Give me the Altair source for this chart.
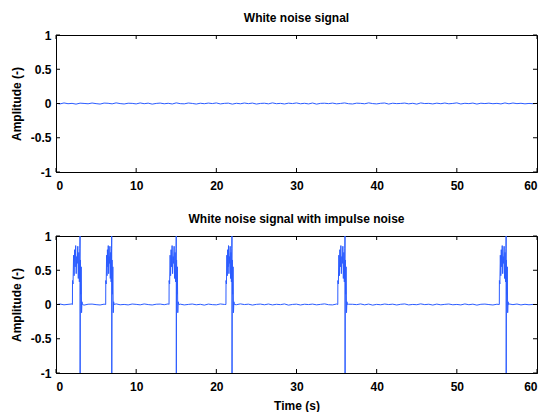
import altair as alt
import pandas as pd

BLUE = "#2b5cff"
W, H = 481, 137

x_ticks = [0, 10, 20, 30, 40, 50, 60]
y_ticks = [-1, -0.5, 0, 0.5, 1]

# white noise (thousandths of amplitude), read as a thin jittery line around 0
noise_top = [4, -6, 8, -3, 2, -9, 5, 1, -4, 7, -2, -8, 6, 3, -5, 9, -1, -7, 4, 2,
             -6, 8, -3, 5, -9, 1, 6, -4, 3, -7, 9, -2, -5, 7, 1, -8, 4, -3, 6, -1,
             8, -6, 2, 5, -9, 3, -4, 7, -2, 6, -8, 1, 4, -5, 9, -3, 2, -7, 5, -1,
             8, -4, 3, -6, 7, -9, 2, 4, -2, 6, -5, 1, 8, -3, -7, 5, 2, -4, 9, -1,
             -6, 3, 7, -8, 4, -2, 1, 6, -5, 3, -9, 8, -1, 2, -6, 5, -3, 7, -4, 1,
             9, -7, 3, -2, 6, -8, 4, -1, 5, -3, 2, -6, 8, -4, 7, -2, 3, -5, 1, -3, 2]
noise_bottom = [-3, 7, -5, 2, 8, -6, 1, -9, 4, 6, -2, -7, 5, 3, -8, 9, -4, 1, -6, 7,
                2, -5, 8, -1, -7, 4, 6, -3, 9, -8, 2, 5, -6, 1, 7, -4, 3, -9, 6, -2,
                -5, 8, 1, -7, 4, -3, 9, -1, 5, -8, 2, 6, -4, 7, -6, 3, -2, 8, -9, 1,
                5, -7, 4, -1, 6, -5, 2, 9, -3, -6, 7, 1, -8, 4, 3, -2, 8, -5, 6, -9,
                2, -4, 7, -1, 5, -7, 3, 8, -6, 1, -3, 9, -2, 4, -8, 6, -5, 2, 7, -4,
                1, -6, 8, -3, 5, -9, 3, 6, -1, -7, 4, 2, -5, 8, -2, 7, -6, 3, -4, 1, 0]

# impulse bursts: start of burst, time of the full-scale spike
burst_rise = [2.05, 6.2, 14.1, 21.2, 35.15, 55.3]
burst_spike = [3.0, 6.95, 15.0, 21.95, 36.05, 56.15]
burst_pre = [0.35, 0.30, 0.72, 0.42, 0.80, 0.55, 0.86, 0.45, 0.70, 0.60, 0.85,
             0.38, 0.76, 0.33, 0.82]
burst_post = [0.65, 0.15, 0.55, -0.12, 0.04]


def noise_frame(noise):
    n = len(noise)
    return [(60 * i / (n - 1), v / 1000) for i, v in enumerate(noise)]


top_df = pd.DataFrame(noise_frame(noise_top), columns=["t", "y"])

rows = []
for t, v in noise_frame(noise_bottom):
    if any(r - 0.02 <= t <= s + 0.3 for r, s in zip(burst_rise, burst_spike)):
        continue
    rows.append((t, v))
for r, s in zip(burst_rise, burst_spike):
    rows.append((r, 0.0))
    m = len(burst_pre)
    for k, v in enumerate(burst_pre):
        rows.append((r + 0.01 + (s - r - 0.03) * k / (m - 1), v))
    rows.append((s, 1.0))
    rows.append((s + 0.01, -1.0))
    for k, v in enumerate(burst_post):
        rows.append((s + 0.04 + 0.05 * k, v))
    rows.append((s + 0.3, 0.0))
bot_df = pd.DataFrame(sorted(rows), columns=["t", "y"])
bot_df["i"] = range(len(bot_df))
top_df["i"] = range(len(top_df))

xs = alt.Scale(domain=[0, 60], nice=False, zero=False)
ys = alt.Scale(domain=[-1, 1], nice=False, zero=False)
label_expr = "'' + datum.value"

xt_df = pd.DataFrame({"v": x_ticks})
yt_df = pd.DataFrame({"v": y_ticks})


def panel(df, title, xtitle):
    if xtitle:
        x_axis = alt.Axis(values=x_ticks, labelExpr=label_expr, title=xtitle,
                          labelPadding=8, titlePadding=8)
    else:
        x_axis = alt.Axis(values=x_ticks, labelExpr=label_expr, title="",
                          labelPadding=8)
    y_axis = alt.Axis(values=y_ticks, labelExpr=label_expr, title="Amplitude (-)",
                      labelPadding=5, titlePadding=7)
    line = alt.Chart(df).mark_line(color=BLUE, strokeWidth=1, clip=True).encode(
        x=alt.X("t:Q", scale=xs, axis=x_axis),
        y=alt.Y("y:Q", scale=ys, axis=y_axis),
        order="i:Q",
    )
    xb = alt.Chart(xt_df).mark_rule(color="black").encode(
        x=alt.X("v:Q", scale=xs, axis=x_axis), y=alt.value(H), y2=alt.value(H - 4))
    xtp = alt.Chart(xt_df).mark_rule(color="black").encode(
        x=alt.X("v:Q", scale=xs, axis=x_axis), y=alt.value(0), y2=alt.value(4))
    yl = alt.Chart(yt_df).mark_rule(color="black").encode(
        y=alt.Y("v:Q", scale=ys, axis=y_axis), x=alt.value(0), x2=alt.value(4))
    yr = alt.Chart(yt_df).mark_rule(color="black").encode(
        y=alt.Y("v:Q", scale=ys, axis=y_axis), x=alt.value(W), x2=alt.value(W - 4))
    return alt.layer(line, xb, xtp, yl, yr).properties(
        width=W, height=H,
        title=alt.TitleParams(title, fontSize=12, fontWeight="bold",
                              font="Liberation Sans", color="black", offset=4),
    )


chart = alt.vconcat(
    panel(top_df, "White noise signal", None),
    panel(bot_df, "White noise signal with impulse noise", "Time (s)"),
    spacing=20,
).properties(padding={"left": 1, "top": 3, "right": 0, "bottom": 0}).configure_view(
    stroke="black", strokeWidth=1
).configure_axis(
    grid=False, domainColor="black", tickSize=0,
    labelFont="Liberation Sans", labelFontSize=12, labelFontWeight="bold",
    labelColor="black", titleFont="Liberation Sans", titleFontSize=12,
    titleFontWeight="bold", titleColor="black",
).configure_title(anchor="middle")

chart.save("out.html", embed_options={"renderer": "svg", "actions": False})
